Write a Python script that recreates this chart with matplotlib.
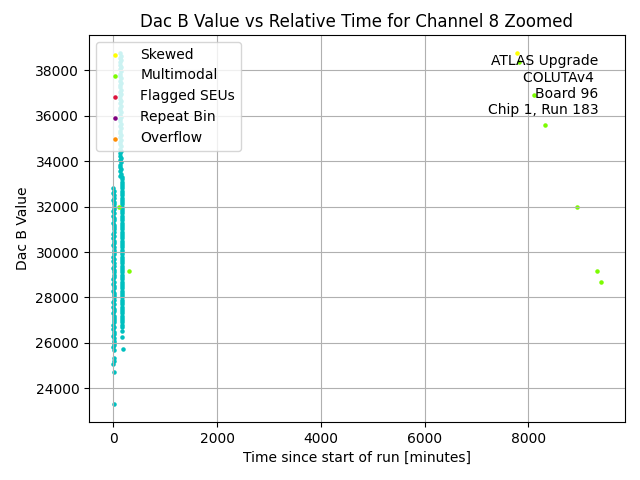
import matplotlib
matplotlib.use("Agg")
import matplotlib.pyplot as plt

# Normal readings (cyan) - first column near start of run
normal_time_a = [2, 9, 4, 11, 6, 3, 8, 5, 10, 7,
                 2, 9, 4, 11, 6, 3, 8, 5, 10, 7,
                 2, 9, 4, 11, 6, 3, 8, 5, 10, 7,
                 2, 9, 4, 11, 6, 3, 8, 5, 10, 7,
                 2, 9, 4, 11, 6, 3, 8, 5, 10, 7,
                 2, 9, 4, 11, 6, 3, 8, 5, 10, 7,
                 2, 9, 4, 11, 6, 3, 8, 5, 10, 7,
                 4, 6, 5, 6, 4, 8, 14]
normal_vals_a = [32800, 32700, 32600, 32500, 32400, 32300, 32200, 32100, 32000, 31900,
                 31800, 31700, 31600, 31500, 31400, 31300, 31200, 31100, 31000, 30900,
                 30800, 30700, 30600, 30500, 30400, 30300, 30200, 30100, 30000, 29900,
                 29800, 29700, 29600, 29500, 29400, 29300, 29200, 29100, 29000, 28900,
                 28800, 28700, 28600, 28500, 28400, 28300, 28200, 28100, 28000, 27900,
                 27800, 27700, 27600, 27500, 27400, 27300, 27200, 27100, 27000, 26900,
                 26800, 26700, 26600, 26500, 26400, 26300, 26200, 26100, 26000, 25900,
                 25800, 25700, 25350, 25200, 25080, 24700, 23290]

# Second column, upper part
normal_time_b = [136, 140, 134, 142, 138, 136, 140, 134, 142, 138,
                 136, 140, 134, 142, 138, 136, 140, 134, 142, 138,
                 136, 140, 134, 142, 138, 136, 140, 134, 142, 138,
                 136, 140, 134, 142, 138, 136, 140, 134, 142, 138,
                 136, 140, 134, 142, 138, 136, 140, 134, 142, 138,
                 136, 140, 134, 142, 138]
normal_vals_b = [38750, 38650, 38550, 38450, 38350, 38250, 38150, 38050, 37950, 37850,
                 37750, 37650, 37550, 37450, 37350, 37250, 37150, 37050, 36950, 36850,
                 36750, 36650, 36550, 36450, 36350, 36250, 36150, 36050, 35950, 35850,
                 35750, 35650, 35550, 35450, 35350, 35250, 35150, 35050, 34950, 34850,
                 34750, 34650, 34550, 34450, 34350, 34250, 34150, 34050, 33950, 33850,
                 33750, 33650, 33550, 33450, 33350]

# Second column, lower part
normal_time_c = [161, 165, 159, 167, 163, 161, 165, 159, 167, 163,
                 161, 165, 159, 167, 163, 161, 165, 159, 167, 163,
                 161, 165, 159, 167, 163, 161, 165, 159, 167, 163,
                 161, 165, 159, 167, 163, 161, 165, 159, 167, 163,
                 161, 165, 159, 167, 163, 161, 165, 159, 167, 163,
                 161, 165, 159, 167, 163, 161, 165, 159, 167, 163,
                 161, 165, 159, 167, 163, 161, 165, 163, 175, 185]
normal_vals_c = [33300, 33200, 33100, 33000, 32900, 32800, 32700, 32600, 32500, 32400,
                 32300, 32200, 32100, 32000, 31900, 31800, 31700, 31600, 31500, 31400,
                 31300, 31200, 31100, 31000, 30900, 30800, 30700, 30600, 30500, 30400,
                 30300, 30200, 30100, 30000, 29900, 29800, 29700, 29600, 29500, 29400,
                 29300, 29200, 29100, 29000, 28900, 28800, 28700, 28600, 28500, 28400,
                 28300, 28200, 28100, 28000, 27900, 27800, 27700, 27600, 27500, 27400,
                 27300, 27200, 27100, 27000, 26900, 26800, 26700, 26520, 26240, 25710]

# Flagged categories
skewed_time = [7775]
skewed_vals = [38782]
multimodal_time = [110, 295, 7827, 8115, 8314, 8936, 9314, 9391]
multimodal_vals = [31980, 29154, 38384, 36896, 35602, 31980, 29154, 28668]
seu_time, seu_vals = [], []
repeat_time, repeat_vals = [], []
overflow_time, overflow_vals = [], []

annotation = "ATLAS Upgrade\nCOLUTAv4 \nBoard 96\nChip 1, Run 183"

fig, ax = plt.subplots(figsize=(6.4, 4.8), dpi=100)
s = 5
ax.scatter(normal_time_a + normal_time_b + normal_time_c,
           normal_vals_a + normal_vals_b + normal_vals_c, s=s, color='c')
ax.scatter(skewed_time, skewed_vals, s=s, color='yellow', label='Skewed')
ax.scatter(multimodal_time, multimodal_vals, s=s, color='lawngreen', label='Multimodal')
ax.scatter(seu_time, seu_vals, s=s, color='crimson', label='Flagged SEUs')
ax.scatter(repeat_time, repeat_vals, s=s, color='purple', label='Repeat Bin')
ax.scatter(overflow_time, overflow_vals, s=s, color='darkorange', label='Overflow')

ax.set_title("Dac B Value vs Relative Time for Channel 8 Zoomed")
ax.set_xlabel("Time since start of run [minutes]")
ax.set_ylabel("Dac B Value")
ax.grid(True)
ax.legend(loc='upper left')
ax.text(0.95, 0.95, annotation, transform=ax.transAxes, ha='right', va='top',
        multialignment='right')
fig.subplots_adjust(left=89/640, right=625/640, top=1-35/480, bottom=1-422/480)
fig.savefig("out.png")
